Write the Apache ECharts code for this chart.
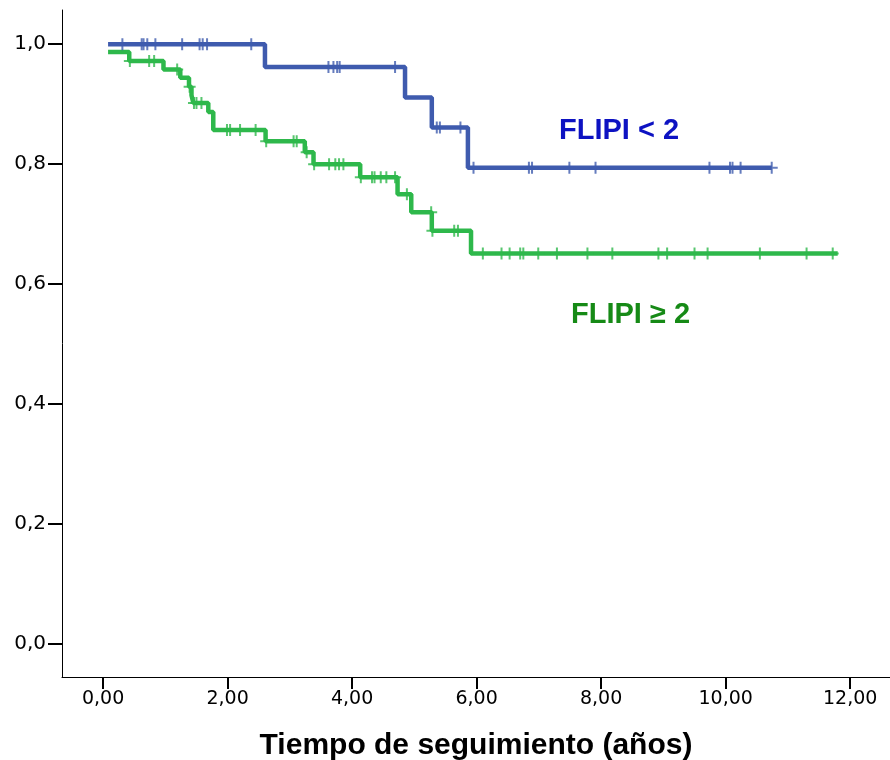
<!DOCTYPE html>
<html>
<head>
    <meta charset="utf-8">
    <title>Supervivencia según FLIPI</title>
    <script type="text/javascript" src="https://cdn.jsdelivr.net/npm/echarts@6/dist/echarts.min.js"></script>
    <style>
        html, body { margin:0; padding:0; background:#fff; }
    </style>
</head>
<body>
<div id="chartmain" style="width:890px; height:760px;"></div>
<script type="text/javascript">
// FLIPI < 2 : tiempos de los escalones y supervivencia desde ese tiempo
var bajoTiempos = [0.08, 2.60, 4.85, 5.28, 5.86, 10.74];
var bajoSuperv  = [1.000, 0.962, 0.911, 0.861, 0.794, 0.794];
var bajoCensura = [0.31, 0.62, 0.65, 0.71, 0.84, 1.27, 1.55, 1.60, 1.67, 2.38,
                   3.62, 3.70, 3.76, 3.80, 4.69, 5.36, 5.41, 5.74, 5.95, 6.84,
                   6.89, 7.49, 7.91, 9.74, 10.07, 10.11, 10.24, 10.74];

// FLIPI >= 2
var altoTiempos = [0.08, 0.42, 0.97, 1.24, 1.38, 1.42, 1.45, 1.69, 1.77, 2.61,
                   3.24, 3.38, 4.13, 4.73, 4.95, 5.28, 5.91, 11.80];
var altoSuperv  = [0.987, 0.972, 0.958, 0.944, 0.929, 0.915, 0.902, 0.887, 0.857, 0.838,
                   0.820, 0.800, 0.778, 0.750, 0.720, 0.689, 0.651, 0.651];
var altoCensura = [0.43, 0.74, 0.82, 1.19, 1.39, 1.46, 1.50, 1.58, 1.99, 2.04,
                   2.20, 2.45, 2.62, 3.06, 3.11, 3.27, 3.39, 3.63, 3.73, 3.79,
                   3.86, 4.14, 4.32, 4.36, 4.46, 4.55, 4.69, 4.88, 5.27, 5.29,
                   5.64, 5.70, 6.10, 6.40, 6.53, 6.70, 6.75, 6.99, 7.29, 7.78,
                   8.18, 8.92, 9.06, 9.50, 9.71, 10.55, 11.30, 11.72];

var xTicks = [0, 2, 4, 6, 8, 10, 12];
var yTicks = [0, 0.2, 0.4, 0.6, 0.8, 1.0];

var azul = '#3f5bae';
var verde = '#2eb84b';
var cruz = 'path://M5,0H7V5H12V7H7V12H5V7H0V5H5Z';

function pares(t, s) {
    var r = [];
    for (var i = 0; i < t.length; i++) r.push([t[i], s[i]]);
    return r;
}
// valor de la curva en el tiempo t (escalon)
function supervEn(tiempos, superv, t) {
    var v = superv[0];
    for (var i = 0; i < tiempos.length; i++) {
        if (tiempos[i] <= t) v = superv[i];
    }
    return v;
}
function censuras(tc, tiempos, superv) {
    return tc.map(function (t) { return [t, supervEn(tiempos, superv, t)]; });
}

var option = {
    animation: false,
    grid: { left: 62, right: 0, top: 10, bottom: 83, outerBoundsMode: 'none' },
    xAxis: {
        type: 'value',
        min: -0.66,
        max: 12.64,
        name: 'Tiempo de seguimiento (años)',
        nameLocation: 'middle',
        nameGap: 54,
        nameTextStyle: { fontFamily: 'Liberation Sans, Arial', fontWeight: 'bold', fontSize: 30, color: '#000' },
        axisLine: { onZero: false, lineStyle: { color: '#000', width: 1 } },
        axisTick: { customValues: xTicks, length: 12, lineStyle: { color: '#000', width: 2 } },
        axisLabel: {
            customValues: xTicks,
            margin: 13,
            fontFamily: 'DejaVu Sans',
            fontSize: 19,
            color: '#000',
            formatter: function (v) { return v.toFixed(2).replace('.', ','); }
        },
        splitLine: { show: false }
    },
    yAxis: {
        type: 'value',
        min: -0.055,
        max: 1.057,
        axisLine: { show: true, onZero: false, lineStyle: { color: '#000', width: 1 } },
        axisTick: { show: true, customValues: yTicks, length: 14, lineStyle: { color: '#000', width: 2 } },
        axisLabel: {
            customValues: yTicks,
            margin: 16,
            fontFamily: 'DejaVu Sans',
            fontSize: 20,
            color: '#000',
            formatter: function (v) { return v.toFixed(1).replace('.', ','); }
        },
        splitLine: { show: false }
    },
    series: [
        {
            name: 'FLIPI ≥ 2', type: 'line', step: 'end', showSymbol: false,
            data: pares(altoTiempos, altoSuperv),
            lineStyle: { color: verde, width: 4.5 }, z: 2
        },
        {
            name: 'FLIPI < 2', type: 'line', step: 'end', showSymbol: false,
            data: pares(bajoTiempos, bajoSuperv),
            lineStyle: { color: azul, width: 4.5 }, z: 3
        },
        {
            type: 'scatter', symbol: cruz, symbolSize: 12,
            data: censuras(altoCensura, altoTiempos, altoSuperv),
            itemStyle: { color: verde }, z: 4
        },
        {
            type: 'scatter', symbol: cruz, symbolSize: 12,
            data: censuras(bajoCensura, bajoTiempos, bajoSuperv),
            itemStyle: { color: azul }, z: 5
        }
    ],
    graphic: [
        {
            type: 'text', left: 559, top: 116,
            style: { text: 'FLIPI < 2', fill: '#0d12c2', font: 'bold 29px "Liberation Sans", Arial' }
        },
        {
            type: 'text', left: 571, top: 300,
            style: { text: 'FLIPI ≥ 2', fill: '#168a16', font: 'bold 29px "Liberation Sans", Arial' }
        }
    ]
};

var myChart = echarts.init(document.getElementById('chartmain'));
myChart.setOption(option);
</script>
</body>
</html>
